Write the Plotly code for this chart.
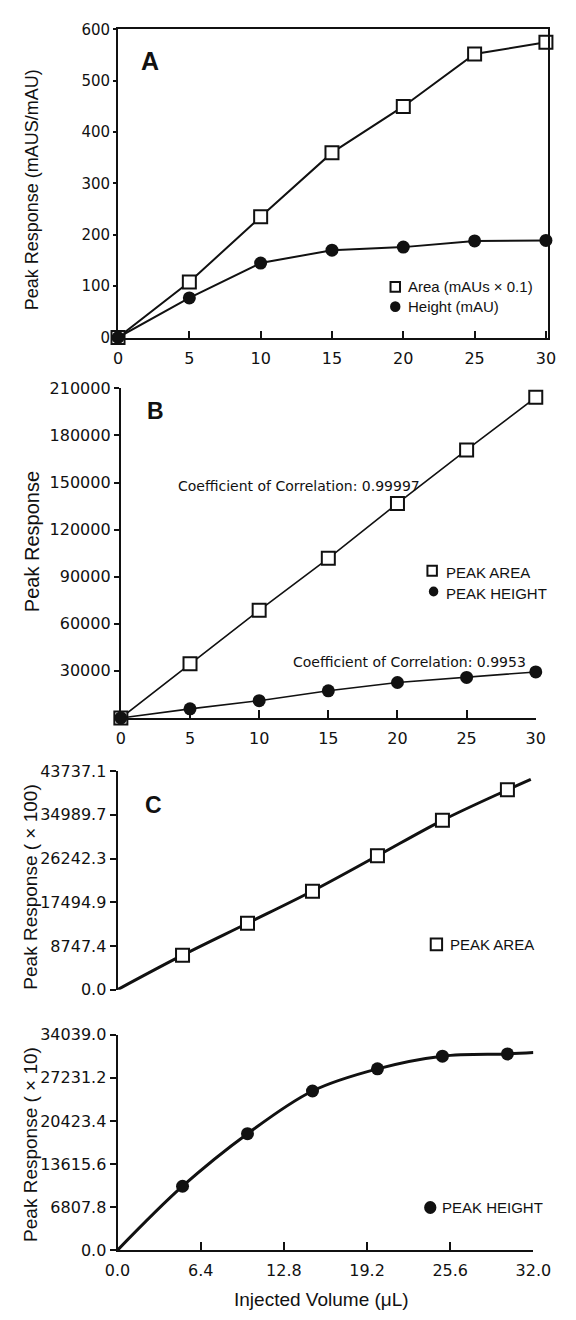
import plotly.graph_objects as go

W, H = 576, 1320

# ---- Panel A: peak area / height vs injected volume ----
vol_a = [0, 5, 10, 15, 20, 25, 30]
area_a = [0, 108, 235, 360, 450, 552, 575]
height_a = [0, 77, 145, 170, 176, 188, 189]
a_yticks = [0, 100, 200, 300, 400, 500, 600]
a_xticks = [0, 5, 10, 15, 20, 25, 30]

# ---- Panel B ----
vol_b = [0, 5, 10, 15, 20, 25, 30]
area_b = [0, 34500, 68600, 101700, 136700, 170800, 204300]
height_b = [0, 5800, 11000, 17300, 22600, 25800, 29300]
b_yticks = [30000, 60000, 90000, 120000, 150000, 180000, 210000]
b_xticks = [0, 5, 10, 15, 20, 25, 30]

# ---- Panel C (area, upper; height, lower) ----
vol_c = [5, 10, 15, 20, 25, 30]
area_c = [6900, 13300, 19700, 26800, 33900, 40000]
fit_area_x = [0, 5, 10, 15, 20, 25, 30, 31.8]
fit_area_y = [0, 6900, 13300, 19750, 26800, 33900, 40000, 42100]
height_c = [10100, 18400, 25150, 28650, 30650, 31000]
fit_height_x = [0, 5, 10, 15, 20, 25, 30, 32]
fit_height_y = [0, 10100, 18400, 25150, 28650, 30650, 31000, 31220]
c_area_ticks = [0.0, 8747.4, 17494.9, 26242.3, 34989.7, 43737.1]
c_height_ticks = [0.0, 6807.8, 13615.6, 20423.4, 27231.2, 34039.0]
c_xticks = [0.0, 6.4, 12.8, 19.2, 25.6, 32.0]

FONT = "Liberation Sans"
TICKFONT = "DejaVu Sans"
BLACK = "#111111"


def fx(px):
    return px / W


def fy(py):
    return 1 - py / H


sq = dict(symbol="square", size=13, color="white", line=dict(color=BLACK, width=2))
dot = dict(symbol="circle", size=13, color=BLACK, line=dict(color=BLACK, width=0))

fig = go.Figure()

# A
fig.add_trace(go.Scatter(x=vol_a, y=area_a, mode="lines+markers", marker=sq,
                         line=dict(color=BLACK, width=2), xaxis="x", yaxis="y",
                         cliponaxis=False, showlegend=False))
fig.add_trace(go.Scatter(x=vol_a, y=height_a, mode="lines+markers", marker=dot,
                         line=dict(color=BLACK, width=2), xaxis="x", yaxis="y",
                         cliponaxis=False, showlegend=False))
# B
fig.add_trace(go.Scatter(x=vol_b, y=area_b, mode="lines+markers", marker=sq,
                         line=dict(color=BLACK, width=1.6), xaxis="x2", yaxis="y2",
                         cliponaxis=False, showlegend=False))
fig.add_trace(go.Scatter(x=vol_b, y=height_b, mode="lines+markers", marker=dot,
                         line=dict(color=BLACK, width=1.6), xaxis="x2", yaxis="y2",
                         cliponaxis=False, showlegend=False))
# C upper
fig.add_trace(go.Scatter(x=fit_area_x, y=fit_area_y, mode="lines", line_shape="spline",
                         line=dict(color=BLACK, width=3), xaxis="x3", yaxis="y3",
                         cliponaxis=False, showlegend=False))
fig.add_trace(go.Scatter(x=vol_c, y=area_c, mode="markers", marker=sq,
                         xaxis="x3", yaxis="y3", cliponaxis=False, showlegend=False))
# C lower
fig.add_trace(go.Scatter(x=fit_height_x, y=fit_height_y, mode="lines", line_shape="spline",
                         line=dict(color=BLACK, width=3), xaxis="x4", yaxis="y4",
                         cliponaxis=False, showlegend=False))
fig.add_trace(go.Scatter(x=vol_c, y=height_c, mode="markers", marker=dot,
                         xaxis="x4", yaxis="y4", cliponaxis=False, showlegend=False))

base_axis = dict(showgrid=False, zeroline=False, showline=True, linecolor=BLACK,
                 linewidth=2, tickcolor=BLACK, tickwidth=1.5,
                 tickfont=dict(family=TICKFONT, size=16, color=BLACK),
                 fixedrange=True)

fig.update_layout(
    width=W, height=H, margin=dict(l=0, r=0, t=0, b=0),
    paper_bgcolor="white", plot_bgcolor="white",
    font=dict(family=FONT, color=BLACK),
    xaxis=dict(base_axis, domain=[fx(111), fx(565.5)], range=[0, 30.15], anchor="y",
               mirror=True, ticks="inside", ticklen=7, tickvals=a_xticks,
               ticklabelstandoff=5),
    yaxis=dict(base_axis, domain=[fy(333.3), fy(20.7)], range=[0, 600], anchor="x",
               mirror=True, ticks="outside", ticklen=3, tickvals=a_yticks,
               tickfont=dict(family=TICKFONT, size=15, color=BLACK)),
    xaxis2=dict(base_axis, domain=[fx(114), fx(552.5)], range=[0, 30], anchor="y2",
                ticks="inside", ticklen=8, tickvals=b_xticks, ticklabelstandoff=5),
    yaxis2=dict(base_axis, domain=[fy(719.3), fy(384.9)], range=[0, 210000], anchor="x2",
                ticks="outside", ticklen=5, tickvals=b_yticks,
                ticktext=[str(v) for v in b_yticks]),
    xaxis3=dict(base_axis, domain=[fx(110.5), fx(550)], range=[0, 32], anchor="y3",
                visible=False),
    yaxis3=dict(base_axis, domain=[fy(995), fy(773.3)], range=[0, 43737.1], anchor="x3",
                ticks="outside", ticklen=6, tickvals=c_area_ticks,
                ticktext=[f"{v:.1f}" for v in c_area_ticks]),
    xaxis4=dict(base_axis, domain=[fx(110.5), fx(550)], range=[0, 32], anchor="y4",
                ticks="inside", ticklen=8, tickvals=c_xticks,
                ticktext=[f"{v:.1f}" for v in c_xticks], ticklabelstandoff=5),
    yaxis4=dict(base_axis, domain=[fy(1259.3), fy(1040.7)], range=[0, 34039.0], anchor="x4",
                ticks="outside", ticklen=6, tickvals=c_height_ticks,
                ticktext=[f"{v:.1f}" for v in c_height_ticks]),
)

annotations = []


def note(text, px, py, size, xanchor="left", bold=False, angle=0, family=FONT):
    if bold:
        text = f"<b>{text}</b>"
    annotations.append(dict(text=text, x=fx(px), y=fy(py), xref="paper", yref="paper",
                            xanchor=xanchor, yanchor="middle", showarrow=False,
                            textangle=angle,
                            font=dict(family=family, size=size, color=BLACK)))


# panel letters
note("A", 145, 53, 25, xanchor="center", bold=True)
note("B", 150.5, 408, 23, xanchor="center", bold=True)
note("C", 149, 808, 23, xanchor="center", bold=True)

# axis titles
note("Peak Response (mAUS/mAU)", 20, 183, 18, xanchor="center", angle=-90)
note("Peak Response", 20, 540, 20, xanchor="center", angle=-90)
note("Peak Response ( \u00d7 100)", 18.5, 891, 19, xanchor="center", angle=-90)
note("Peak Response ( \u00d7 10)", 18.5, 1152, 19, xanchor="center", angle=-90)
note("Injected Volume (\u03bcL)", 326, 1309, 19, xanchor="center")

# legend texts
note("Area (mAUs \u00d7 0.1)", 415, 282, 15)
note("Height (mAU)", 415, 302, 15)
note("PEAK AREA", 456, 572, 15)
note("PEAK HEIGHT", 456, 593, 15)
note("PEAK AREA", 460, 949, 15)
note("PEAK HEIGHT", 451, 1216, 15)

# correlation notes
note("Coefficient of Correlation: 0.99997", 172, 484, 14, family="DejaVu Sans")
note("Coefficient of Correlation: 0.9953", 294, 663, 14, family="DejaVu Sans")

fig.update_layout(annotations=annotations)

# legend keys
shapes = []


def key(kind, cx, cy, s):
    shapes.append(dict(type="rect" if kind == "sq" else "circle",
                       xref="paper", yref="paper",
                       x0=fx(cx - s / 2), x1=fx(cx + s / 2),
                       y0=fy(cy + s / 2), y1=fy(cy - s / 2),
                       line=dict(color=BLACK, width=2 if kind == "sq" else 0),
                       fillcolor="white" if kind == "sq" else BLACK))


key("sq", 404, 282, 10)
key("dot", 404, 302, 11)
key("sq", 443, 570, 10)
key("dot", 444.5, 591, 10)
key("sq", 447.5, 949, 12)
key("dot", 441, 1216, 13)
fig.update_layout(shapes=shapes)

fig.write_html("out.html")
